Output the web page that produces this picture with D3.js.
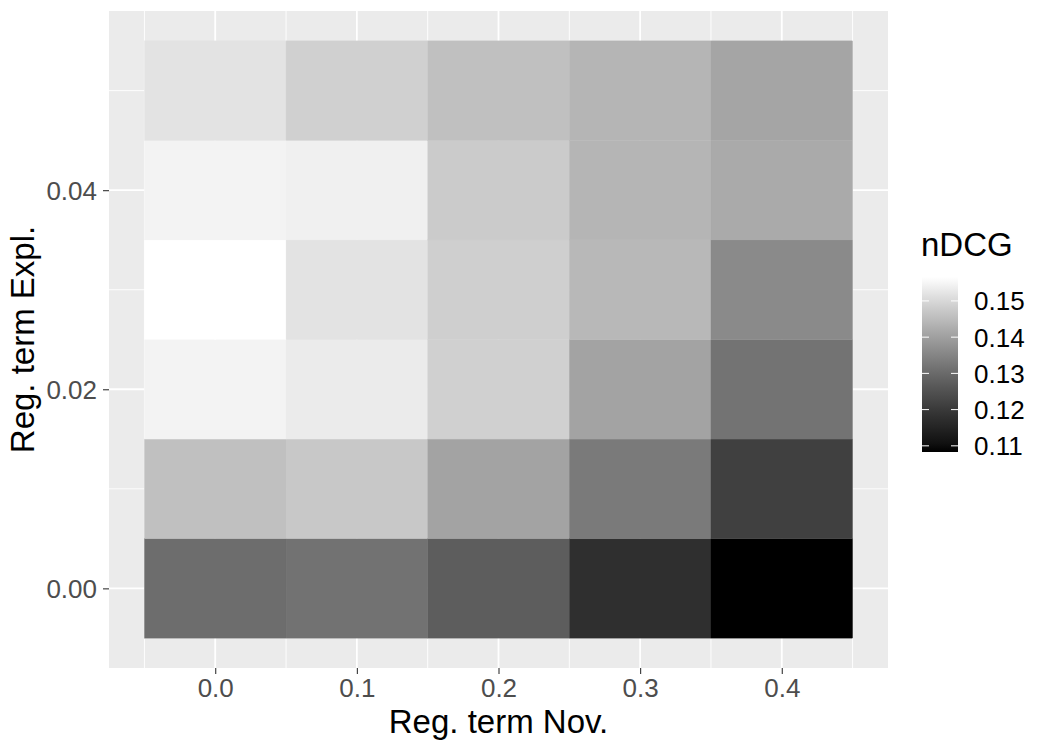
<!DOCTYPE html>
<html>
<head>
<meta charset="utf-8">
<script src="https://cdn.jsdelivr.net/npm/d3@7"></script>
<style>
  body { margin: 0; background: #fff; }
  text { font-family: "Liberation Sans", Arial, sans-serif; }
</style>
</head>
<body>
<div id="canvas"></div>
<script>
// regularisation terms
const novTerms = [0.0, 0.1, 0.2, 0.3, 0.4];
const explTerms = [0.00, 0.01, 0.02, 0.03, 0.04, 0.05];

// nDCG values, one row per Expl. term (0.00 .. 0.05), columns = Nov. term
const ndcgRows = [
    [0.1305, 0.1315, 0.1274, 0.1177, 0.1083],
    [0.1458, 0.1472, 0.1407, 0.1330, 0.1214],
    [0.1546, 0.1532, 0.1486, 0.1407, 0.1317],
    [0.1566, 0.1519, 0.1484, 0.1444, 0.1361],
    [0.1546, 0.1541, 0.1478, 0.1439, 0.1419],
    [0.1519, 0.1486, 0.1458, 0.1439, 0.1410]
];

const xTicks = [0.0, 0.1, 0.2, 0.3, 0.4];
const yTicks = [0.00, 0.02, 0.04];
const legendTicks = [0.11, 0.12, 0.13, 0.14, 0.15];

let cells = [];
for (let i = 0; i < explTerms.length; i++) {
    for (let j = 0; j < novTerms.length; j++) {
        cells.push({ x: novTerms[j], y: explTerms[i], v: ndcgRows[i][j] });
    }
}

const width = 1050, height = 750;
const panel = { left: 109, right: 888, top: 11, bottom: 668 };

const svg = d3.select('#canvas').append('svg')
    .attr('width', width)
    .attr('height', height);

// ggplot-like expansion: 5% around tiles
const xScale = d3.scaleLinear()
    .domain([-0.075, 0.475])
    .range([panel.left, panel.right]);
const yScale = d3.scaleLinear()
    .domain([-0.008, 0.058])
    .range([panel.bottom, panel.top]);

const vExtent = d3.extent(cells, d => d.v);
const color = d3.scaleSequential(d3.interpolateLab('black', 'white'))
    .domain(vExtent);

svg.append('rect')
    .attr('x', panel.left)
    .attr('y', panel.top)
    .attr('width', panel.right - panel.left)
    .attr('height', panel.bottom - panel.top)
    .style('fill', '#ebebeb');

const grid = svg.append('g');
const xMinor = d3.range(-0.05, 0.46, 0.1);
const yMinor = [0.01, 0.03, 0.05];
grid.selectAll('line.xminor').data(xMinor).enter().append('line')
    .attr('x1', d => xScale(d)).attr('x2', d => xScale(d))
    .attr('y1', panel.top).attr('y2', panel.bottom)
    .style('stroke', '#fff').style('stroke-width', 0.9);
grid.selectAll('line.yminor').data(yMinor).enter().append('line')
    .attr('y1', d => yScale(d)).attr('y2', d => yScale(d))
    .attr('x1', panel.left).attr('x2', panel.right)
    .style('stroke', '#fff').style('stroke-width', 0.9);
grid.selectAll('line.xmajor').data(xTicks).enter().append('line')
    .attr('x1', d => xScale(d)).attr('x2', d => xScale(d))
    .attr('y1', panel.top).attr('y2', panel.bottom)
    .style('stroke', '#fff').style('stroke-width', 1.8);
grid.selectAll('line.ymajor').data(yTicks).enter().append('line')
    .attr('y1', d => yScale(d)).attr('y2', d => yScale(d))
    .attr('x1', panel.left).attr('x2', panel.right)
    .style('stroke', '#fff').style('stroke-width', 1.8);

svg.append('g').selectAll('rect').data(cells).enter().append('rect')
    .attr('x', d => xScale(d.x - 0.05))
    .attr('y', d => yScale(d.y + 0.005))
    .attr('width', xScale(0.1) - xScale(0))
    .attr('height', yScale(0) - yScale(0.01))
    .style('fill', d => color(d.v))
    .style('stroke', d => color(d.v))
    .style('stroke-width', 0.3);

// axes
const xAxis = svg.append('g')
    .attr('transform', 'translate(0,' + panel.bottom + ')')
    .call(d3.axisBottom(xScale).tickValues(xTicks).tickFormat(d3.format('.1f')).tickSize(6).tickPadding(5));
const yAxis = svg.append('g')
    .attr('transform', 'translate(' + panel.left + ',0)')
    .call(d3.axisLeft(yScale).tickValues(yTicks).tickFormat(d3.format('.2f')).tickSize(6).tickPadding(6));
[xAxis, yAxis].forEach(function (ax) {
    ax.select('.domain').remove();
    ax.selectAll('.tick line').style('stroke', '#333').style('stroke-width', 1.1);
    ax.selectAll('.tick text')
        .style('fill', '#4d4d4d')
        .style('font-size', '26px')
        .style('font-family', '"Liberation Sans", Arial, sans-serif');
});
xAxis.selectAll('.tick text').attr('dy', '0.71em');
yAxis.selectAll('.tick text').attr('dy', '0.36em');

svg.append('text')
    .attr('x', (panel.left + panel.right) / 2)
    .attr('y', 733)
    .attr('text-anchor', 'middle')
    .style('font-size', '33px')
    .text('Reg. term Nov.');

svg.append('text')
    .attr('transform', 'translate(34,' + ((panel.top + panel.bottom) / 2) + ') rotate(-90)')
    .attr('text-anchor', 'middle')
    .style('font-size', '33px')
    .text('Reg. term Expl.');

// legend
const legend = svg.append('g');
const barX = 922, barW = 36, barTop = 277, barBottom = 452;
const lScale = d3.scaleLinear().domain(vExtent).range([barBottom, barTop]);
const defs = svg.append('defs');
const grad = defs.append('linearGradient')
    .attr('id', 'legend-grad')
    .attr('x1', 0).attr('y1', 1).attr('x2', 0).attr('y2', 0);
d3.range(0, 1.0001, 0.05).forEach(function (t) {
    grad.append('stop')
        .attr('offset', t)
        .attr('stop-color', d3.interpolateLab('black', 'white')(t));
});
legend.append('rect')
    .attr('x', barX).attr('y', barTop)
    .attr('width', barW).attr('height', barBottom - barTop)
    .style('fill', 'url(#legend-grad)');
legendTicks.forEach(function (t) {
    const y = lScale(t);
    legend.append('line')
        .attr('x1', barX).attr('x2', barX + 7)
        .attr('y1', y).attr('y2', y)
        .style('stroke', '#fff').style('stroke-width', 1);
    legend.append('line')
        .attr('x1', barX + barW - 7).attr('x2', barX + barW)
        .attr('y1', y).attr('y2', y)
        .style('stroke', '#fff').style('stroke-width', 1);
    legend.append('text')
        .attr('x', 974).attr('y', y)
        .attr('dy', '0.36em')
        .style('font-size', '26px')
        .style('fill', '#000')
        .text(d3.format('.2f')(t));
});
legend.append('text')
    .attr('x', 921).attr('y', 256)
    .style('font-size', '33px')
    .text('nDCG');
</script>
</body>
</html>
